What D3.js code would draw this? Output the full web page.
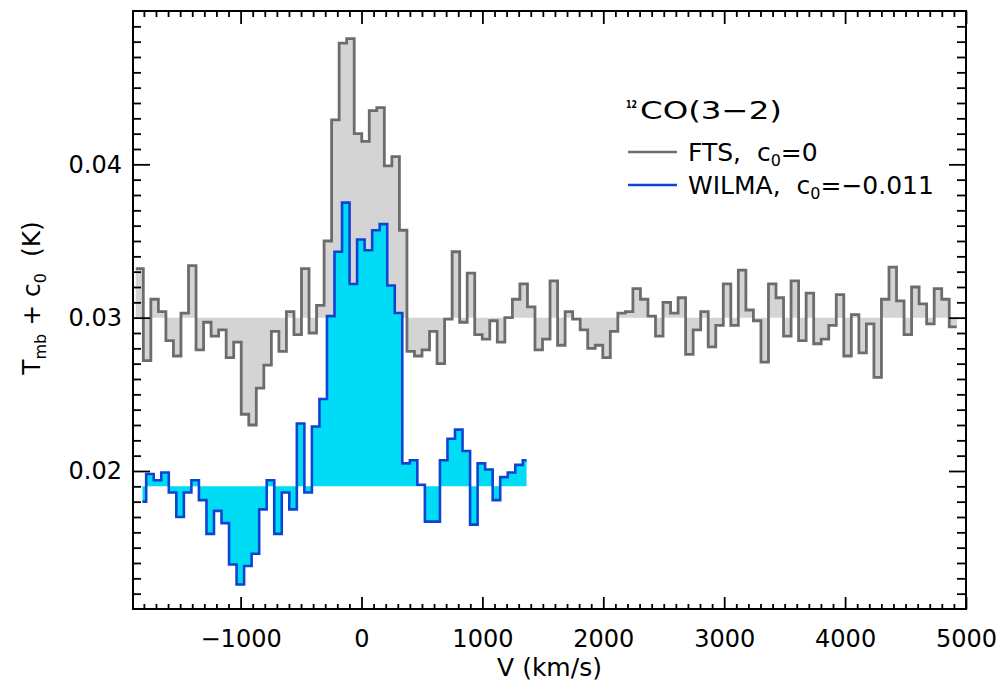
<!DOCTYPE html>
<html>
<head>
<meta charset="utf-8">
<script src="https://cdn.jsdelivr.net/npm/d3@7"></script>
<style>
  body { margin: 0; background: #fff; }
  svg { display: block; }
  text { font-family: "DejaVu Sans", sans-serif; fill: #000; }
</style>
</head>
<body>
<svg id="chart" width="1002" height="689"></svg>
<script>
// 12CO(3-2) spectra: FTS and WILMA backends, Tmb (K) per velocity channel

// channel grid (km/s)
const ftsStart = -1867;      // left edge of first FTS channel
const wilmaStart = -1812;    // centre of first WILMA channel
const channelWidth = 62.3;

const ftsOffset = 0;         // c0 for FTS
const wilmaOffset = -0.011;  // c0 for WILMA
const baseLevel = 0.03;

const ftsValues = [
  0.0332, 0.0272, 0.0312, 0.0304, 0.0285, 0.0275, 0.0303, 0.0334, 0.0279, 0.0297,
  0.0288, 0.0292, 0.0274, 0.0284, 0.0237, 0.0230, 0.0254, 0.0269, 0.0291, 0.0278,
  0.0304, 0.0289, 0.0332, 0.0290, 0.0308, 0.0350, 0.0429, 0.0479, 0.0482, 0.0420,
  0.0415, 0.0435, 0.0437, 0.0399, 0.0405, 0.0357, 0.0278, 0.0275, 0.0279, 0.0291,
  0.0270, 0.0299, 0.0343, 0.0297, 0.0329, 0.0289, 0.0286, 0.0298, 0.0284, 0.0300,
  0.0312, 0.0322, 0.0307, 0.0279, 0.0286, 0.0324, 0.0282, 0.0304, 0.0299, 0.0292,
  0.0280, 0.0282, 0.0274, 0.0291, 0.0303, 0.0304, 0.0319, 0.0312, 0.0301, 0.0288,
  0.0310, 0.0303, 0.0313, 0.0276, 0.0292, 0.0304, 0.0281, 0.0295, 0.0322, 0.0295,
  0.0331, 0.0305, 0.0298, 0.0271, 0.0322, 0.0313, 0.0288, 0.0324, 0.0285, 0.0316,
  0.0283, 0.0286, 0.0295, 0.0315, 0.0275, 0.0302, 0.0277, 0.0296, 0.0261, 0.0312,
  0.0333, 0.0311, 0.0289, 0.0320, 0.0309, 0.0296, 0.0319, 0.0312, 0.0294
];

const wilmaValues = [
  0.0290, 0.0308, 0.0304, 0.0309, 0.0296, 0.0280, 0.0296, 0.0304, 0.0291, 0.0269,
  0.0284, 0.0276, 0.0249, 0.0236, 0.0248, 0.0256, 0.0285, 0.0304, 0.0269, 0.0296,
  0.0285, 0.0341, 0.0296, 0.0339, 0.0357, 0.0411, 0.0453, 0.0485, 0.0432, 0.0461,
  0.0454, 0.0467, 0.0471, 0.0431, 0.0413, 0.0315, 0.0317, 0.0301, 0.0277, 0.0277,
  0.0317, 0.0331, 0.0337, 0.0323, 0.0275, 0.0315, 0.0311, 0.0291, 0.0306, 0.0309,
  0.0314, 0.0317
];

const xTicks = [-1000, 0, 1000, 2000, 3000, 4000, 5000];
const yTicks = [0.02, 0.03, 0.04];

const ftsColor = '#6c6c6c';
const ftsFill = '#d4d4d4';
const wilmaColor = '#0f44d2';
const wilmaFill = '#00dcf6';

const svg = d3.select('#chart');
const margin = { left: 133, right: 966, top: 11, bottom: 609 };

const x = d3.scaleLinear().domain([-1890, 5000]).range([margin.left, margin.right]);
const y = d3.scaleLinear().domain([0.011, 0.05]).range([margin.bottom, margin.top]);

svg.append('defs').append('clipPath').attr('id', 'plot-clip')
  .append('rect')
  .attr('x', margin.left).attr('y', margin.top)
  .attr('width', margin.right - margin.left)
  .attr('height', margin.bottom - margin.top);

// FTS as channel bins (left edges), closed with the right edge of the last channel
const ftsPoints = ftsValues.map((t, i) => ({ v: ftsStart + i * channelWidth, t: t + ftsOffset }));
ftsPoints.push({ v: ftsStart + ftsValues.length * channelWidth, t: ftsValues[ftsValues.length - 1] + ftsOffset });

// WILMA as histogram centred on channels
const wilmaPoints = wilmaValues.map((t, i) => ({ v: wilmaStart + i * channelWidth, t: t + wilmaOffset }));

const plot = svg.append('g').attr('clip-path', 'url(#plot-clip)');

const ftsArea = d3.area()
  .x(d => x(d.v)).y0(y(baseLevel + ftsOffset)).y1(d => y(d.t))
  .curve(d3.curveStepAfter);
const ftsLine = d3.line()
  .x(d => x(d.v)).y(d => y(d.t))
  .curve(d3.curveStepAfter);

const wilmaArea = d3.area()
  .x(d => x(d.v)).y0(y(baseLevel + wilmaOffset)).y1(d => y(d.t))
  .curve(d3.curveStep);
const wilmaLine = d3.line()
  .x(d => x(d.v)).y(d => y(d.t))
  .curve(d3.curveStep);

plot.append('path').datum(ftsPoints).attr('d', ftsArea).attr('fill', ftsFill);
plot.append('path').datum(ftsPoints).attr('d', ftsLine)
  .attr('fill', 'none').attr('stroke', ftsColor).attr('stroke-width', 2.8);

plot.append('path').datum(wilmaPoints).attr('d', wilmaArea).attr('fill', wilmaFill);
plot.append('path').datum(wilmaPoints).attr('d', wilmaLine)
  .attr('fill', 'none').attr('stroke', wilmaColor).attr('stroke-width', 2.6);

// axes: ticks point inward on all four sides
const xMinor = d3.range(-1800, 5000, 100).filter(v => v % 1000 !== 0);
const yMinor = d3.range(12, 50).map(d => d / 1000).filter(v => Math.round(v * 1000) % 10 !== 0);

function styleAxis(g) {
  g.select('.domain').remove();
  g.selectAll('.tick line').attr('stroke', '#000').attr('stroke-width', 1.8);
  g.selectAll('text').attr('font-size', 24).attr('font-family', '"DejaVu Sans", sans-serif').attr('fill', '#000');
}

svg.append('g').attr('transform', `translate(0,${margin.bottom})`)
  .call(d3.axisBottom(x).tickValues(xTicks).tickSize(-12).tickPadding(21)
    .tickFormat(d => d < 0 ? '\u2212' + Math.abs(d) : d))
  .call(styleAxis);
svg.append('g').attr('transform', `translate(0,${margin.bottom})`)
  .call(d3.axisBottom(x).tickValues(xMinor).tickSize(-5).tickFormat(''))
  .call(styleAxis);
svg.append('g').attr('transform', `translate(0,${margin.top})`)
  .call(d3.axisTop(x).tickValues(xTicks).tickSize(-13).tickFormat(''))
  .call(styleAxis);
svg.append('g').attr('transform', `translate(0,${margin.top})`)
  .call(d3.axisTop(x).tickValues(xMinor).tickSize(-6).tickFormat(''))
  .call(styleAxis);

svg.append('g').attr('transform', `translate(${margin.left},0)`)
  .call(d3.axisLeft(y).tickValues(yTicks).tickSize(-17).tickPadding(11).tickFormat(d3.format('.2f')))
  .call(styleAxis);
svg.append('g').attr('transform', `translate(${margin.left},0)`)
  .call(d3.axisLeft(y).tickValues(yMinor).tickSize(-8).tickFormat(''))
  .call(styleAxis);
svg.append('g').attr('transform', `translate(${margin.right},0)`)
  .call(d3.axisRight(y).tickValues(yTicks).tickSize(-17).tickFormat(''))
  .call(styleAxis);
svg.append('g').attr('transform', `translate(${margin.right},0)`)
  .call(d3.axisRight(y).tickValues(yMinor).tickSize(-9).tickFormat(''))
  .call(styleAxis);

// frame
svg.append('rect')
  .attr('x', margin.left).attr('y', margin.top)
  .attr('width', margin.right - margin.left)
  .attr('height', margin.bottom - margin.top)
  .attr('fill', 'none').attr('stroke', '#000').attr('stroke-width', 2);

// x axis title
svg.append('text')
  .attr('x', (margin.left + margin.right) / 2)
  .attr('y', 676)
  .attr('text-anchor', 'middle')
  .attr('font-size', 25)
  .style('white-space', 'pre')
  .text('V (km/s)');

// y axis title
const yTitle = svg.append('text')
  .attr('transform', 'translate(40,298) rotate(-90)')
  .attr('text-anchor', 'middle')
  .attr('font-size', 25)
  .style('white-space', 'pre');
yTitle.append('tspan').text('T');
yTitle.append('tspan').attr('font-size', 16).attr('dy', 6).text('mb');
yTitle.append('tspan').attr('dy', -6).text(' + c');
yTitle.append('tspan').attr('font-size', 16).attr('dy', 6).text('0');
yTitle.append('tspan').attr('dy', -6).text('  (K)');

// legend
const legend = svg.append('g');
legend.append('text')
  .attr('x', 626).attr('y', 108)
  .attr('font-size', 10)
  .attr('font-weight', 'bold')
  .attr('textLength', 11)
  .attr('lengthAdjust', 'spacingAndGlyphs')
  .text('12');
legend.append('text')
  .attr('x', 640).attr('y', 119)
  .attr('font-size', 25)
  .attr('textLength', 142)
  .attr('lengthAdjust', 'spacingAndGlyphs')
  .text('CO(3\u22122)');

const legendItems = [
  { label: 'FTS,  c', value: '=0', color: ftsColor, y: 152 },
  { label: 'WILMA,  c', value: '=\u22120.011', color: wilmaColor, y: 185 }
];
legendItems.forEach(item => {
  legend.append('line')
    .attr('x1', 628).attr('x2', 677)
    .attr('y1', item.y).attr('y2', item.y)
    .attr('stroke', item.color).attr('stroke-width', 2.6);
  const t = legend.append('text')
    .attr('x', 688).attr('y', item.y + 9)
    .attr('font-size', 25)
    .style('white-space', 'pre');
  t.append('tspan').text(item.label);
  t.append('tspan').attr('font-size', 16).attr('dy', 5).text('0');
  t.append('tspan').attr('dy', -5).text(item.value);
});
</script>
</body>
</html>
